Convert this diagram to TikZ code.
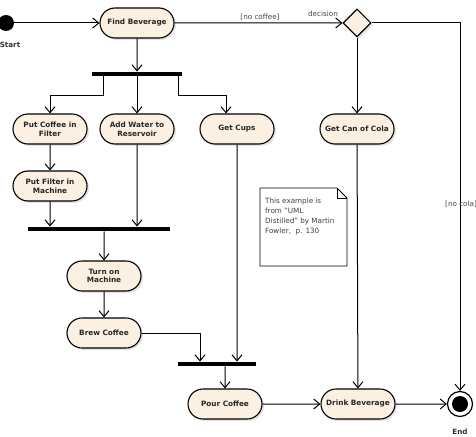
\documentclass[tikz,border=0pt]{standalone}
\usepackage{fontspec}
\setmainfont{DejaVu Sans}
\usepackage{xcolor}
\usetikzlibrary{arrows.meta,shapes.misc,shapes.geometric,shadows}

\definecolor{actfill}{RGB}{251,240,226}
\definecolor{labgray}{RGB}{70,70,70}

\begin{document}
\begin{tikzpicture}[x=1pt, y=-1pt,
  act/.style={rounded rectangle, draw, line width=1.1pt, fill=actfill,
    minimum width=76pt, minimum height=30pt, inner sep=1pt, align=center,
    font=\fontsize{7.3}{8.6}\selectfont\bfseries, text=black!85,
    drop shadow={shadow xshift=2pt, shadow yshift=-2pt, fill=black!20}},
  bar/.style={fill=black, inner sep=0pt, minimum height=4.5pt},
  flow/.style={line width=1pt, -{Straight Barb[length=6pt, width=10pt]}},
  lab/.style={font=\fontsize{7.2}{8.6}\selectfont, text=labgray}]
  \useasboundingbox (0,0) rectangle (476,436);

  % start, first action and the decision
  \node[circle, fill=black, minimum size=16pt, inner sep=0pt] (start) at (6,23) {};
  \node[lab, font=\fontsize{7.2}{8.6}\selectfont\bfseries, text=black!80, inner sep=0pt] (startlab) at (10,45) {Start};
  \node[act] (find) at (137,23) {Find Beverage};
  \node[diamond, draw, line width=1.1pt, fill=actfill, minimum width=28pt,
    minimum height=28pt, inner sep=0pt,
    drop shadow={shadow xshift=2pt, shadow yshift=-2pt, fill=black!20}] (dec) at (357,23) {};

  % coffee branch
  \node[bar, minimum width=90pt] (fork) at (137,74) {};
  \node[act] (putcoffee) at (50,129) {Put Coffee in\\Filter};
  \node[act] (addwater) at (137,129) {Add Water to\\Reservoir};
  \node[act] (getcups) at (237,129) {Get Cups};
  \node[act] (putfilter) at (50,186) {Put Filter in\\Machine};
  \node[bar, minimum width=142pt] (join) at (99,229) {};
  \node[act] (turnon) at (104,276) {Turn on\\Machine};
  \node[act] (brew) at (104,333) {Brew Coffee};
  \node[bar, minimum width=78pt] (pourbar) at (217,364) {};
  \node[act] (pour) at (225,404) {Pour Coffee};

  % cola branch and end
  \node[act] (cola) at (357,129) {Get Can of Cola};
  \node[act] (drink) at (358,404) {Drink Beverage};
  \node[circle, draw, line width=1.2pt, fill=white, minimum size=25pt, inner sep=0pt] (end) at (460,404) {};
  \node[circle, fill=black, minimum size=16pt, inner sep=0pt] (endin) at (end) {};
  \node[lab, font=\fontsize{7.2}{8.6}\selectfont\bfseries, text=black!80] (endlab) at (460,432) {End};

  % note
  \draw[fill=white, line width=0.9pt] (260,188) -- (337,188) -- (347,198) -- (347,266) -- (260,266) -- cycle;
  \draw[line width=0.9pt] (337,188) -- (337,198) -- (347,198);
  \node[lab, text=black!75, anchor=north west, align=left, inner sep=0pt,
    font=\fontsize{7.2}{10}\selectfont] (note) at (265,198)
    {This example is\\from "UML\\Distilled" by Martin\\Fowler,\ \ p. 130};

  % flows
  \draw[flow] (start) -- (find);
  \draw[flow] (find) -- (dec);
  \draw[flow] (find) -- (fork);
  \draw[flow] ([xshift=-34pt]fork.south) -- ++(0,19) -| (putcoffee);
  \draw[flow] (fork) -- (addwater);
  \draw[flow] ([xshift=41pt]fork.south) -- ++(0,19) -| ([xshift=-11pt]getcups.north);
  \draw[flow] (putcoffee) -- (putfilter);
  \draw[flow] (putfilter) -- (putfilter |- join.north);
  \draw[flow] (addwater) -- (addwater |- join.north);
  \draw[flow] (join.south -| turnon) -- (turnon);
  \draw[flow] (turnon) -- (brew);
  \draw[flow] (brew) -| ([xshift=-17pt]pourbar.north);
  \draw[flow] (getcups) -- (getcups |- pourbar.north);
  \draw[flow] (pourbar.south -| pour) -- (pour);
  \draw[flow] (pour) -- (drink);
  \draw[flow] (dec) -- (cola);
  \draw[flow] (cola) -- (drink);
  \draw[flow] (dec) -| (end);
  \draw[flow] (drink) -- (end);

  % guards
  \node[lab] (nocoffee) at (260,17) {[no coffee]};
  \node[lab] (declab) at (323,14) {decision};
  \node[lab, anchor=west, inner sep=0pt] (nocola) at (445,204) {[no cola]};
\end{tikzpicture}
\end{document}
